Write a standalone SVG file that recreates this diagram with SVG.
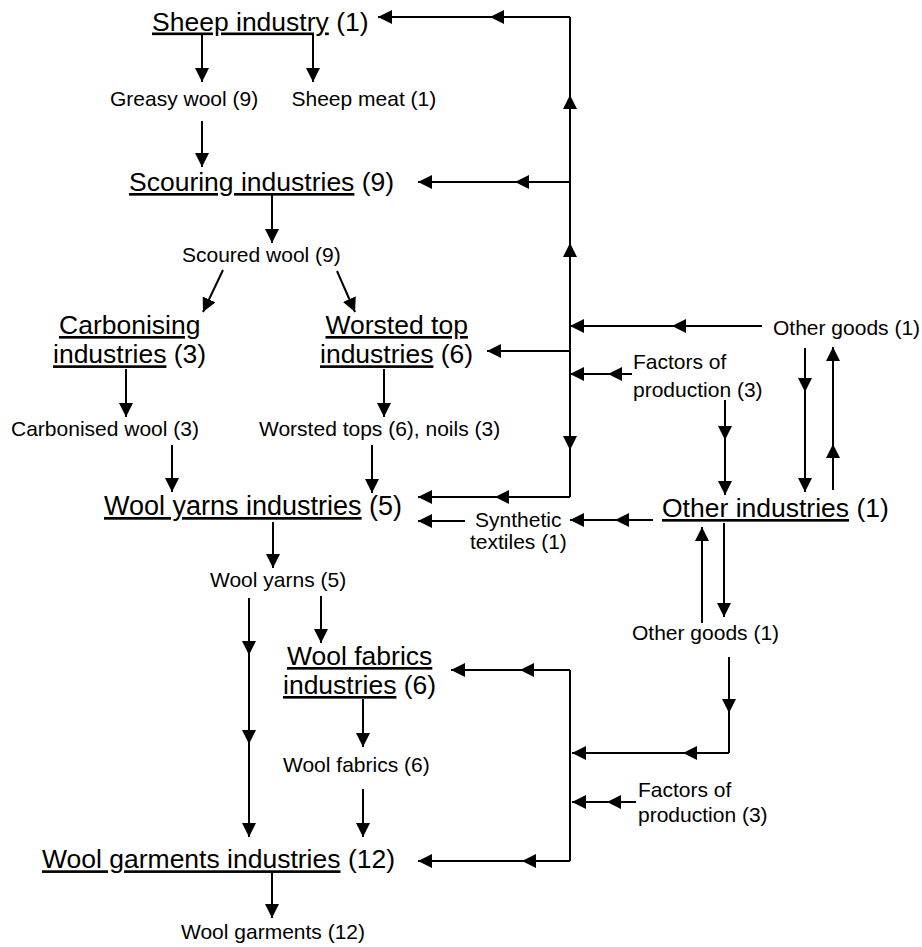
<svg xmlns="http://www.w3.org/2000/svg" width="922" height="947" viewBox="0 0 922 947">
<defs>
<marker id="ah" viewBox="0 0 14 14" refX="14" refY="7" markerWidth="14" markerHeight="14" markerUnits="userSpaceOnUse" orient="auto"><path d="M0,0 L14,7 L0,14 z" fill="#000"/></marker>
</defs>
<style>
text{font-family:"Liberation Sans",Arial,sans-serif;fill:#000}
.b{font-size:26.5px}
.s{font-size:21px}
.u{text-decoration:underline}
.c path{fill:none;stroke:#000;stroke-width:2}
.c .e{marker-end:url(#ah)}
.c .m{marker-mid:url(#ah)}
.c .me{marker-mid:url(#ah);marker-end:url(#ah)}
</style>
<rect width="922" height="947" fill="#fff"/>
<g id="sheep-industry"><text class="b" x="152" y="30.5"><tspan class="u">Sheep industry</tspan> (1)</text></g>
<g id="greasy-wool"><text class="s" x="110" y="106">Greasy wool (9)</text></g>
<g id="sheep-meat"><text class="s" x="291.5" y="106">Sheep meat (1)</text></g>
<g id="scouring"><text class="b" x="129" y="191"><tspan class="u">Scouring industries</tspan> (9)</text></g>
<g id="scoured-wool"><text class="s" x="182" y="261.5">Scoured wool (9)</text></g>
<g id="carbonising"><text class="b" x="59" y="334"><tspan class="u">Carbonising</tspan></text><text class="b" x="53" y="363.3"><tspan class="u">industries</tspan> (3)</text></g>
<g id="worsted-top"><text class="b" x="325.5" y="334"><tspan class="u">Worsted top</tspan></text><text class="b" x="320" y="363.3"><tspan class="u">industries</tspan> (6)</text></g>
<g id="carbonised-wool"><text class="s" x="11" y="436">Carbonised wool (3)</text></g>
<g id="worsted-tops"><text class="s" x="259" y="436">Worsted tops (6), noils (3)</text></g>
<g id="wool-yarns-industries"><text class="b" x="104" y="515" style="font-size:27px"><tspan class="u">Wool yarns industries</tspan> (5)</text></g>
<g id="synthetic"><text class="s" x="475" y="527">Synthetic</text><text class="s" x="470" y="549">textiles (1)</text></g>
<g id="other-industries"><text class="b" x="662" y="517"><tspan class="u">Other industries</tspan> (1)</text></g>
<g id="other-goods-top"><text class="s" x="773" y="335">Other goods (1)</text></g>
<g id="factors-top"><text class="s" x="633" y="369.3">Factors of</text><text class="s" x="633" y="396.7">production (3)</text></g>
<g id="wool-yarns"><text class="s" x="210" y="586.7">Wool yarns (5)</text></g>
<g id="other-goods-mid"><text class="s" x="632" y="640">Other goods (1)</text></g>
<g id="wool-fabrics-industries"><text class="b" x="287" y="665"><tspan class="u">Wool fabrics</tspan></text><text class="b" x="283" y="694"><tspan class="u">industries</tspan> (6)</text></g>
<g id="wool-fabrics"><text class="s" x="283" y="771.7">Wool fabrics (6)</text></g>
<g id="factors-bottom"><text class="s" x="638" y="797.3">Factors of</text><text class="s" x="638" y="821.7">production (3)</text></g>
<g id="wool-garments-industries"><text class="b" x="42" y="868.3"><tspan class="u">Wool garments industries</tspan> (12)</text></g>
<g id="wool-garments"><text class="s" x="181" y="939.3">Wool garments (12)</text></g>
<g id="connectors" class="c">
<path class="me" d="M570,17 L490,17 L378,17"/>
<path class="m" d="M570,182 L570,95 L570,17"/>
<path class="me" d="M570,182 L515,182 L418,182"/>
<path class="m" d="M570,351 L570,243 L570,182"/>
<path class="e" d="M570,351 L487,351"/>
<path class="me" d="M762,326 L672,326 L570,326"/>
<path class="me" d="M632,374 L608,374 L570,374"/>
<path class="m" d="M570,351 L570,450 L570,497"/>
<path class="me" d="M570,497 L495,497 L418,497"/>
<path class="me" d="M725,400 L725,440 L725,495"/>
<path class="me" d="M805,348 L805,392 L805,492"/>
<path class="me" d="M833,490 L833,444 L833,347"/>
<path class="me" d="M653,520 L615,520 L570,520"/>
<path class="e" d="M465,521 L418,521"/>
<path class="e" d="M702,623 L702,527"/>
<path class="e" d="M724,523 L724,617"/>
<path class="m" d="M729,657 L729,713 L729,753"/>
<path class="me" d="M729,753 L683,753 L572,753"/>
<path class="me" d="M636,802 L607,802 L572,802"/>
<path d="M570,670 L570,861"/>
<path class="me" d="M570,670 L520,670 L451,670"/>
<path class="me" d="M570,861 L522,861 L418,861"/>
<path class="e" d="M202,34 L202,82"/>
<path class="e" d="M313,34 L313,82"/>
<path class="e" d="M202,121 L202,167"/>
<path class="e" d="M272,194 L272,243"/>
<path class="e" d="M223,270 L203,312"/>
<path class="e" d="M337,271 L355,312"/>
<path class="e" d="M126,369 L126,417"/>
<path class="e" d="M384,369 L384,417"/>
<path class="e" d="M172,445 L172,492"/>
<path class="e" d="M372,445 L372,493"/>
<path class="e" d="M273,522 L273,568"/>
<path class="me" d="M249,598 L249,655 L249,744 L249,837"/>
<path class="e" d="M321,596 L321,643"/>
<path class="e" d="M363,699 L363,747"/>
<path class="e" d="M363,789 L363,837"/>
<path class="e" d="M272,873 L272,918"/>
</g>
</svg>
